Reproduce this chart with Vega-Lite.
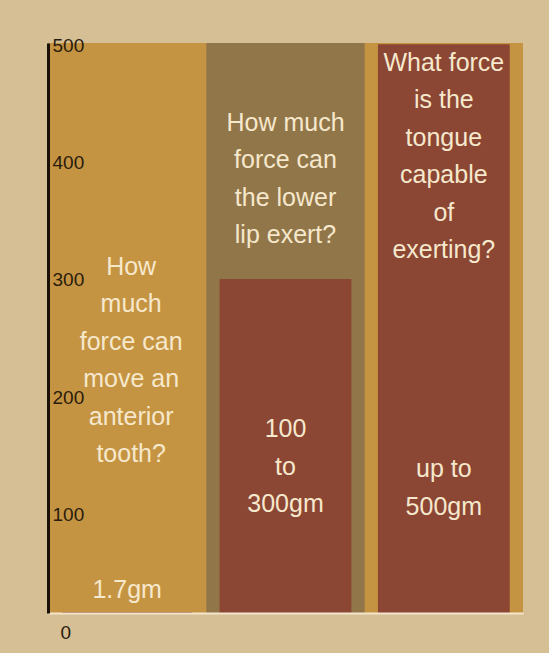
{
  "$schema": "https://vega.github.io/schema/vega-lite/v6.json",
  "width": 475,
  "height": 570,
  "autosize": {"type": "none"},
  "padding": {"left": 48, "top": 43, "right": 26, "bottom": 40},
  "background": "#d6be95",
  "config": {
    "view": {"stroke": null, "fill": "#c59442"},
    "text": {"font": "Liberation Sans", "fontSize": 25, "lineHeight": 37.5, "lineBreak": "\n", "color": "#f6e8cc", "align": "center", "baseline": "middle"}
  },
  "data": {
    "values": [
      {"category": "tooth", "value": 1.7, "question": "How\nmuch\nforce can\nmove an\nanterior\ntooth?", "amount": "1.7gm"},
      {"category": "lip", "value": 300, "question": "How much\nforce can\nthe lower\nlip exert?", "amount": "100\nto\n300gm"},
      {"category": "tongue", "value": 500, "question": "What force\nis the\ntongue\ncapable\nof\nexerting?", "amount": "up to\n500gm"}
    ]
  },
  "encoding": {
    "x": {"field": "category", "type": "nominal", "sort": ["tooth", "lip", "tongue"], "scale": {"paddingInner": 0, "paddingOuter": 0}}
  },
  "layer": [
    {
      "transform": [{"filter": "datum.category === 'lip'"}],
      "mark": {"type": "bar", "color": "#917649", "width": {"band": 1}},
      "encoding": {
        "y": {"datum": 502, "type": "quantitative", "scale": {"domain": [16, 502], "clamp": true, "zero": false, "nice": false}},
        "y2": {"datum": 16}
      }
    },
    {
      "mark": {"type": "bar", "color": "#8b4634", "stroke": "#8b4634", "strokeWidth": 2, "width": {"band": 0.82}},
      "encoding": {
        "x": {"field": "category", "type": "nominal", "sort": ["tooth", "lip", "tongue"], "axis": {"title": null, "labels": false, "ticks": false, "domain": true, "domainColor": "#f3e6cc", "domainWidth": 2, "zindex": 1}},
        "y": {
          "field": "value", "type": "quantitative",
          "scale": {"domain": [16, 502], "clamp": true, "zero": false, "nice": false},
          "axis": {
            "title": null, "values": [0, 100, 200, 300, 400, 500], "grid": false, "ticks": false,
            "domainColor": "#1a1008", "domainWidth": 3, "zindex": 1,
            "labelAlign": "left", "labelBaseline": "middle",
            "labelFont": "Liberation Sans", "labelFontSize": 19, "labelColor": "#2a1c0c",
            "labelPadding": {"condition": {"test": "datum.value === 0", "value": -12}, "value": -4},
            "labelOffset": {"condition": {"test": "datum.value === 0", "value": 19}, "value": 0}
          }
        }
      }
    },
    {
      "transform": [{"filter": "datum.category === 'tooth'"}],
      "mark": {"type": "text", "dx": 4},
      "encoding": {"y": {"datum": 311.3, "type": "quantitative"}, "text": {"field": "question"}}
    },
    {
      "transform": [{"filter": "datum.category === 'tooth'"}],
      "mark": {"type": "text"},
      "encoding": {"y": {"datum": 35.6, "type": "quantitative"}, "text": {"field": "amount"}}
    },
    {
      "transform": [{"filter": "datum.category === 'lip'"}],
      "mark": {"type": "text"},
      "encoding": {"y": {"datum": 433.9, "type": "quantitative"}, "text": {"field": "question"}}
    },
    {
      "transform": [{"filter": "datum.category === 'lip'"}],
      "mark": {"type": "text"},
      "encoding": {"y": {"datum": 172.6, "type": "quantitative"}, "text": {"field": "amount"}}
    },
    {
      "transform": [{"filter": "datum.category === 'tongue'"}],
      "mark": {"type": "text"},
      "encoding": {"y": {"datum": 485.0, "type": "quantitative"}, "text": {"field": "question"}}
    },
    {
      "transform": [{"filter": "datum.category === 'tongue'"}],
      "mark": {"type": "text"},
      "encoding": {"y": {"datum": 138.6, "type": "quantitative"}, "text": {"field": "amount"}}
    }
  ]
}
